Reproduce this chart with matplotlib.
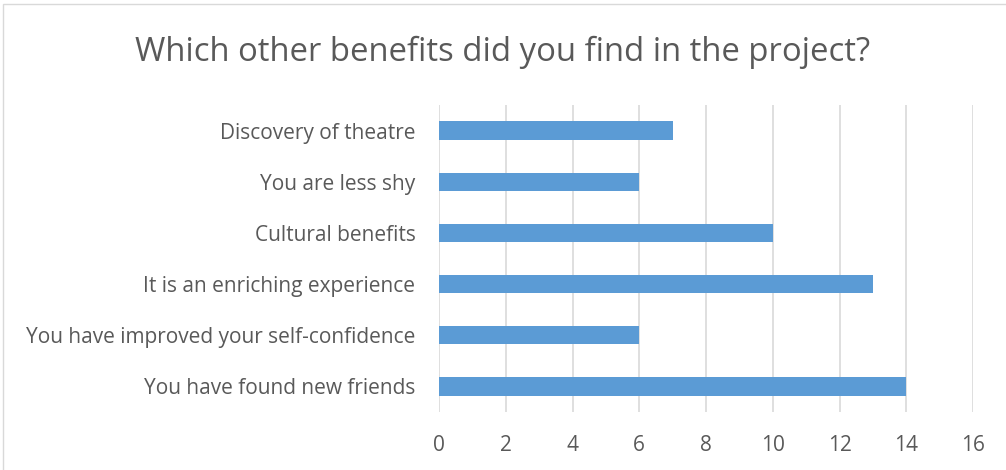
import matplotlib
matplotlib.use("Agg")
import matplotlib.pyplot as plt
from matplotlib.patches import Rectangle

categories = [
    "You have found new friends",
    "You have improved your self-confidence",
    "It is an enriching experience",
    "Cultural benefits",
    "You are less shy",
    "Discovery of theatre",
]
counts = [14, 6, 13, 10, 6, 7]
x_ticks = [0, 2, 4, 6, 8, 10, 12, 14, 16]

title = "Which other benefits did you find in the project?"
bar_color = "#5B9BD5"
text_color = "#595959"
grid_color = "#D9D9D9"

plt.rcParams["font.family"] = ["Open Sans", "DejaVu Sans"]

W, H = 1006, 470
fig = plt.figure(figsize=(W / 100, H / 100), dpi=100)

# chart frame
fig.patches.append(Rectangle((3 / W, -0.01), 1.02, 1 - 4 / H + 0.01,
                             transform=fig.transFigure, fill=False,
                             edgecolor="#D9D9D9", linewidth=1.0))

left, right = 439 / W, 973 / W
top, bottom = 1 - 105 / H, 1 - 412 / H
ax = fig.add_axes([left, bottom, right - left, top - bottom])

y = range(len(categories))
ax.barh(y, counts, height=0.36, color=bar_color, zorder=3)
ax.set_ylim(-0.5, len(categories) - 0.5)
ax.set_xlim(0, 16)
ax.set_xticks(x_ticks)
ax.set_xticklabels([str(t) for t in x_ticks])
ax.set_yticks(list(y))
ax.set_yticklabels(categories)

ax.grid(axis="x", color=grid_color, linewidth=1.2, zorder=0)
for s in ax.spines.values():
    s.set_visible(False)
ax.tick_params(axis="both", length=0, colors=text_color, labelsize=15)
ax.tick_params(axis="x", pad=16.5)
ax.tick_params(axis="y", pad=17)

fig.text(0.5, 1 - 52 / H, title, ha="center", va="center",
         fontsize=23.7, color=text_color)

fig.savefig("out.png", dpi=100)
